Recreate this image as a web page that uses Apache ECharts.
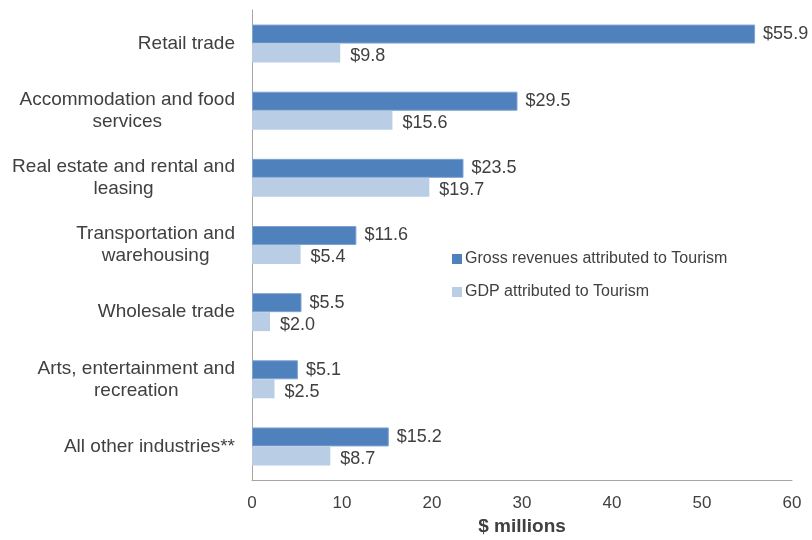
<!DOCTYPE html>
<html>
<head>
<meta charset="utf-8">
<script src="https://cdn.jsdelivr.net/npm/echarts@6/dist/echarts.min.js"></script>
<style>
  html, body { margin: 0; padding: 0; background: #fff; }
  #chart-container { width: 812px; height: 540px; }
</style>
</head>
<body>
<div id="chart-container"></div>
<script>
const categories = [
  'Retail trade',
  'Accommodation and food\nservices',
  'Real estate and rental and\nleasing',
  'Transportation and\nwarehousing',
  'Wholesale trade',
  'Arts, entertainment and\nrecreation',
  'All other industries**'
];
const grossRevenues = [55.9, 29.5, 23.5, 11.6, 5.5, 5.1, 15.2];
const gdpTourism = [9.8, 15.6, 19.7, 5.4, 2.0, 2.5, 8.7];

var chartDom = document.getElementById('chart-container');
var myChart = echarts.init(chartDom);
var textColor = '#404040';
var fontFamily = '"Liberation Sans", Arial, sans-serif';

var option = {
  textStyle: { fontFamily: fontFamily, color: textColor },
  animation: false,
  grid: {
    left: 252,
    right: 20,
    top: 10,
    bottom: 60,
    outerBoundsMode: 'none'
  },
  legend: {
    orient: 'vertical',
    left: 447,
    top: 246,
    itemWidth: 10,
    itemHeight: 10,
    itemGap: 17,
    icon: 'rect',
    itemStyle: { borderWidth: 0 },
    textStyle: { fontSize: 16, color: textColor, fontFamily: fontFamily, padding: [0, 0, 0, -2] },
    data: ['Gross revenues attributed to Tourism', 'GDP attributed to Tourism']
  },
  xAxis: {
    type: 'value',
    min: 0,
    max: 60,
    interval: 10,
    name: '$ millions',
    nameLocation: 'middle',
    nameGap: 35,
    nameTextStyle: { fontSize: 19, fontWeight: 'bold', color: textColor, fontFamily: fontFamily },
    axisLine: { show: true, lineStyle: { color: '#a6a6a6', width: 1 } },
    axisTick: { show: false },
    splitLine: { show: false },
    axisLabel: { fontSize: 17, color: textColor, margin: 15, fontFamily: fontFamily }
  },
  yAxis: {
    type: 'category',
    inverse: true,
    data: categories,
    axisLine: { show: true, lineStyle: { color: '#a6a6a6', width: 1 } },
    axisTick: { show: false },
    axisLabel: {
      margin: 17,
      fontSize: 19,
      color: textColor,
      fontFamily: fontFamily,
      lineHeight: 22,
      formatter: function (v) {
        return v.split('\n').map(function (s) { return '{c|' + s + '}'; }).join('\n');
      },
      rich: {
        c: { align: 'center', fontSize: 19, lineHeight: 22, color: textColor, fontFamily: fontFamily }
      }
    }
  },
  series: [
    {
      name: 'Gross revenues attributed to Tourism',
      type: 'bar',
      barWidth: 19,
      barGap: '0%',
      itemStyle: { color: '#4f81bd', borderColor: '#7fa3d1', borderWidth: 1 },
      label: {
        show: true,
        position: 'right',
        distance: 8,
        fontSize: 18,
        color: textColor,
        fontFamily: fontFamily,
        formatter: function (p) { return '$' + p.value.toFixed(1); }
      },
      data: grossRevenues
    },
    {
      name: 'GDP attributed to Tourism',
      type: 'bar',
      barWidth: 19,
      barGap: '0%',
      itemStyle: { color: '#b9cde5' },
      label: {
        show: true,
        position: 'right',
        distance: 10,
        offset: [0, 3],
        fontSize: 18,
        color: textColor,
        fontFamily: fontFamily,
        formatter: function (p) { return '$' + p.value.toFixed(1); }
      },
      data: gdpTourism
    }
  ]
};

option && myChart.setOption(option);
</script>
</body>
</html>
